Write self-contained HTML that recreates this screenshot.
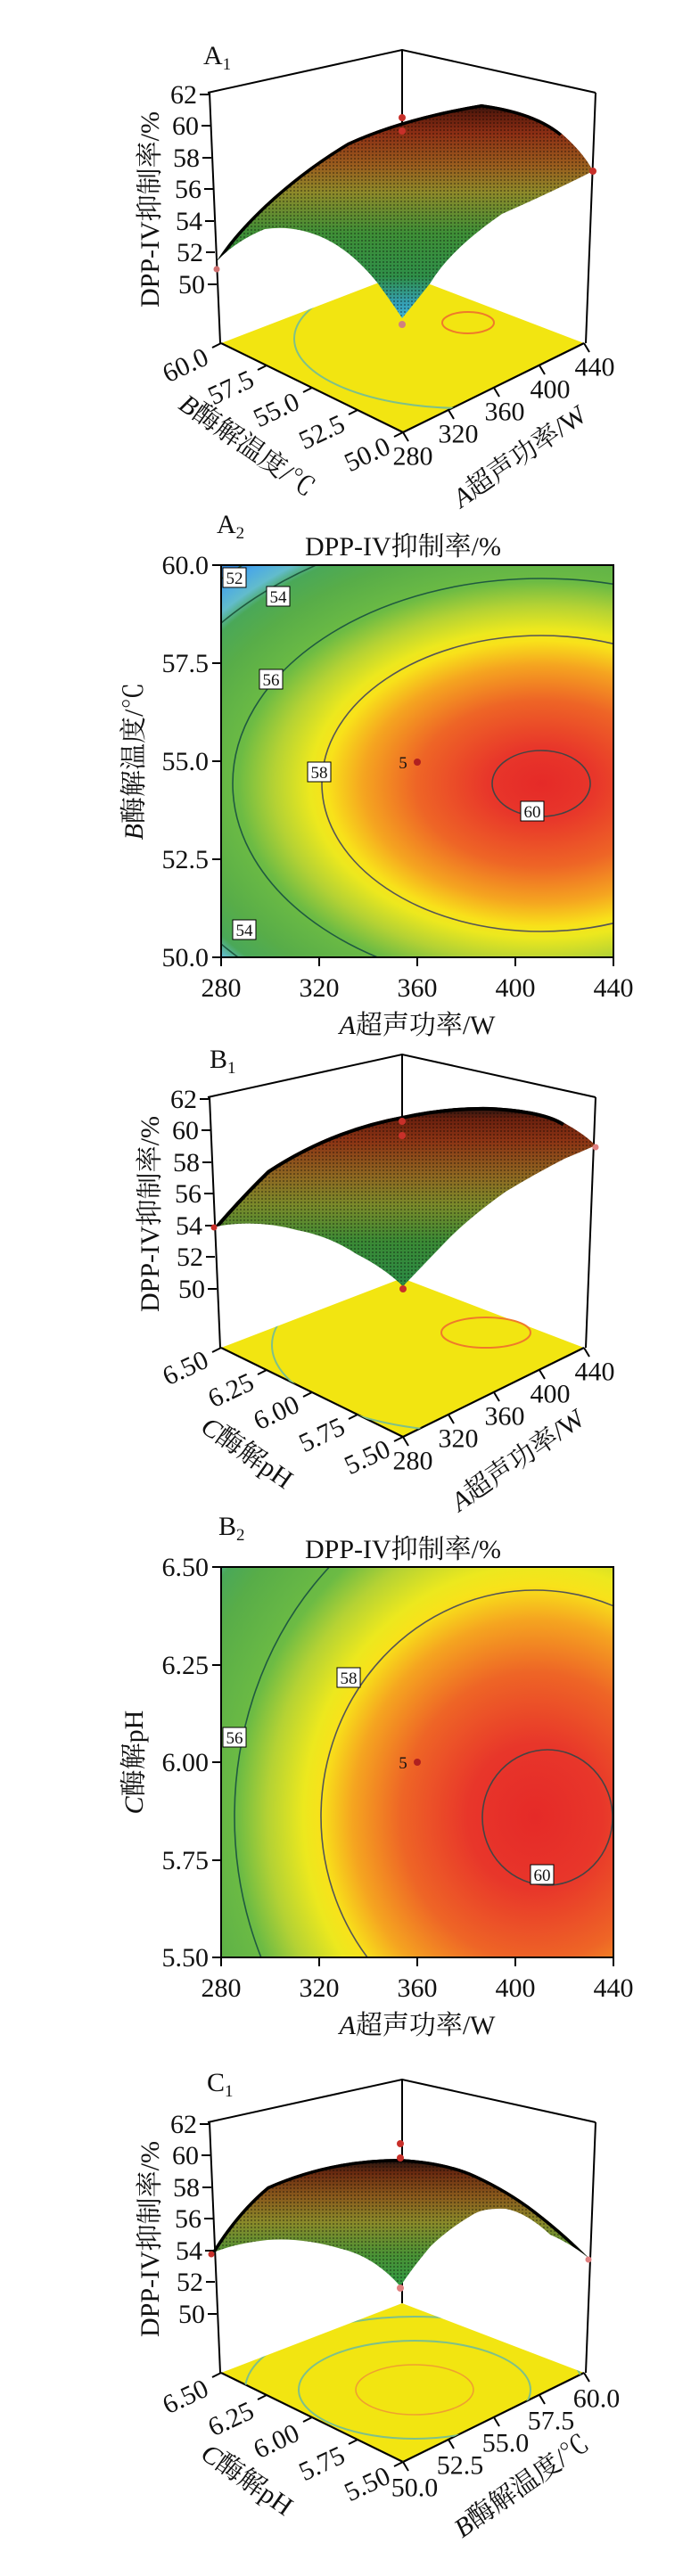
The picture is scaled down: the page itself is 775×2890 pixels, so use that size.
<!DOCTYPE html>
<html><head><meta charset="utf-8"><style>
html,body{margin:0;padding:0;background:#fff;}
svg{display:block;}
text{font-family:"Liberation Serif","Noto Serif CJK SC",serif;fill:#111;}
.t{font-size:30px;}
.cl{font-size:19px;}
</style></head><body>
<svg width="775" height="2890" viewBox="0 0 775 2890" xmlns="http://www.w3.org/2000/svg">
<defs>
<pattern id="mesh" width="4" height="4" patternUnits="userSpaceOnUse"><circle cx="2" cy="2" r="1" fill="#000" opacity=".4"/></pattern>
<linearGradient id="gA" gradientUnits="userSpaceOnUse" x1="0" y1="112" x2="0" y2="360">
<stop offset="0" stop-color="#111"/><stop offset=".06" stop-color="#5a1a0c"/><stop offset=".15" stop-color="#8c2e14"/><stop offset=".3" stop-color="#9a5e1e"/><stop offset=".42" stop-color="#8e8a2a"/><stop offset=".6" stop-color="#3f8f36"/><stop offset=".8" stop-color="#2f8f48"/><stop offset=".92" stop-color="#35a0b5"/><stop offset="1" stop-color="#40b8e0"/></linearGradient>
<linearGradient id="gB" gradientUnits="userSpaceOnUse" x1="0" y1="112" x2="0" y2="318">
<stop offset="0" stop-color="#111"/><stop offset=".08" stop-color="#6a200e"/><stop offset=".2" stop-color="#8c3414"/><stop offset=".4" stop-color="#8e6a22"/><stop offset=".55" stop-color="#7a8a2a"/><stop offset=".75" stop-color="#3a8a35"/><stop offset="1" stop-color="#2a8a45"/></linearGradient>
<linearGradient id="gC" gradientUnits="userSpaceOnUse" x1="0" y1="143" x2="0" y2="290">
<stop offset="0" stop-color="#111"/><stop offset=".12" stop-color="#6a2a10"/><stop offset=".3" stop-color="#8a5a1c"/><stop offset=".5" stop-color="#8a8a2a"/><stop offset=".75" stop-color="#4a9235"/><stop offset="1" stop-color="#2f9a45"/></linearGradient>
<radialGradient id="rA" gradientUnits="userSpaceOnUse" cx="607" cy="879" r="500" gradientTransform="translate(607 879) scale(1 0.667) translate(-607 -879)">
<stop offset="0" stop-color="#e52a28"/><stop offset=".12" stop-color="#e8362a"/><stop offset=".28" stop-color="#ee6526"/><stop offset=".4" stop-color="#f5a520"/><stop offset=".48" stop-color="#f8e21a"/><stop offset=".52" stop-color="#ece81e"/><stop offset=".6" stop-color="#b4d234"/><stop offset=".68" stop-color="#6cbb44"/><stop offset=".8" stop-color="#58ad48"/><stop offset=".88" stop-color="#4aa858"/><stop offset=".92" stop-color="#62bccc"/><stop offset=".97" stop-color="#4aa8e6"/><stop offset="1" stop-color="#3a8ede"/></radialGradient>
<radialGradient id="rB" gradientUnits="userSpaceOnUse" cx="600" cy="2038" r="500" gradientTransform="translate(600 2038) scale(1 1.08) translate(-600 -2038)">
<stop offset="0" stop-color="#e52a28"/><stop offset=".15" stop-color="#e8362a"/><stop offset=".3" stop-color="#ee6526"/><stop offset=".41" stop-color="#f5a520"/><stop offset=".48" stop-color="#f8e21a"/><stop offset=".52" stop-color="#ece81e"/><stop offset=".6" stop-color="#b4d234"/><stop offset=".67" stop-color="#6cbb44"/><stop offset=".8" stop-color="#58ad48"/><stop offset=".86" stop-color="#4aa858"/><stop offset=".9" stop-color="#62bccc"/><stop offset="1" stop-color="#4aa8e6"/></radialGradient>
<clipPath id="cA2"><rect x="248" y="634" width="440" height="440"/></clipPath>
<clipPath id="cB2"><rect x="248" y="1758" width="440" height="438"/></clipPath>
<clipPath id="floor"><polygon points="248,385 452,485 655,385 451,307"/></clipPath>
<clipPath id="sA"><path id="pA" d="M243,293 Q260,265 297,230 Q340,190 390,160 Q451,132 540,117 Q600,125 630,150 Q655,172 665,192 Q620,215 563,240 Q505,280 483,317 Q465,340 451,357 Q440,340 423,317 Q395,282 363,267 Q330,252 297,257 Q265,270 243,293 Z"/></clipPath>
<clipPath id="sB"><path id="pB" d="M240,250 Q270,215 300,186 Q370,140 451,125 Q500,114 550,115 Q610,118 633,133 Q655,145 668,158 Q650,166 633,173 Q600,190 567,210 Q525,240 500,266 Q475,292 452,316 Q430,295 400,280 Q370,260 333,253 Q300,244 267,246 Q250,247 240,250 Z"/></clipPath>
<clipPath id="sC"><path id="pC" d="M237,251 Q265,205 300,176 Q370,145 449,145 Q500,148 533,163 Q570,180 600,203 Q635,230 660,256 Q640,240 617,230 Q590,205 567,201 Q545,200 533,206 Q505,222 483,243 Q462,268 449,288 Q420,255 383,246 Q340,233 300,236 Q262,240 237,251 Z"/></clipPath>
<g id="box">
<polygon points="248,385 452,485 655,385 451,307" fill="#f2e511"/>
<polyline points="233,104 451,56 668,104" fill="none" stroke="#000" stroke-width="2"/>
<line x1="451" y1="56" x2="451" y2="307" stroke="#000" stroke-width="2"/>
<line x1="235" y1="104" x2="247" y2="385" stroke="#000" stroke-width="2"/>
<line x1="668" y1="104" x2="657" y2="385" stroke="#000" stroke-width="2"/>
<polyline points="248,385 452,485 655,385" fill="none" stroke="#000" stroke-width="2.2"/>
<g stroke="#000" stroke-width="2">
<line x1="234" y1="106" x2="224" y2="106"/><line x1="236" y1="141" x2="226" y2="141"/><line x1="237" y1="177" x2="227" y2="177"/><line x1="239" y1="212" x2="229" y2="212"/><line x1="240" y1="248" x2="230" y2="248"/><line x1="241" y1="283" x2="231" y2="283"/><line x1="243" y1="319" x2="233" y2="319"/>
<line x1="248" y1="385" x2="238" y2="390"/><line x1="299" y1="410" x2="289" y2="415"/><line x1="350" y1="435" x2="340" y2="440"/><line x1="401" y1="460" x2="391" y2="465"/><line x1="452" y1="485" x2="442" y2="490"/>
<line x1="452" y1="485" x2="458" y2="495"/><line x1="503" y1="460" x2="509" y2="470"/><line x1="554" y1="435" x2="560" y2="445"/><line x1="605" y1="410" x2="611" y2="420"/><line x1="655" y1="385" x2="661" y2="395"/>
</g>
<g class="t" text-anchor="end"><text x="221" y="116">62</text><text x="223" y="151">60</text><text x="224" y="187">58</text><text x="226" y="222">56</text><text x="227" y="258">54</text><text x="228" y="293">52</text><text x="230" y="329">50</text></g>
<text class="t" transform="translate(178 235) rotate(-90)" text-anchor="middle">DPP-IV抑制率/%</text>
</g>
</defs>

<!-- A1 -->
<text class="t" x="228" y="72">A<tspan font-size="19" dy="6">1</tspan></text>
<use href="#box"/>
<g clip-path="url(#floor)" fill="none"><ellipse cx="520" cy="380" rx="190" ry="78" stroke="#7ec08a" stroke-width="2"/><ellipse cx="520" cy="380" rx="290" ry="120" stroke="#7ec08a" stroke-width="2"/></g>
<ellipse cx="525" cy="362" rx="29" ry="12" fill="none" stroke="#ef7a2a" stroke-width="2"/>
<use href="#pA" fill="url(#gA)"/><use href="#pA" fill="url(#mesh)"/>
<path d="M243,293 Q260,265 297,230 Q340,190 390,160 Q451,132 540,117 Q600,125 630,150" fill="none" stroke="#000" stroke-width="7" clip-path="url(#sA)"/>
<g fill="#c8302a"><circle cx="451" cy="132" r="4"/><circle cx="451" cy="147" r="4"/><circle cx="665" cy="192" r="4"/><circle cx="243" cy="302" r="3.5" fill="#d07070"/><circle cx="451" cy="364" r="4" fill="#d08080"/></g>
<g class="t" text-anchor="middle" dominant-baseline="central">
<text transform="translate(208 410) rotate(-25)">60.0</text><text transform="translate(259 435) rotate(-25)">57.5</text><text transform="translate(310 460) rotate(-25)">55.0</text><text transform="translate(361 485) rotate(-25)">52.5</text><text transform="translate(412 510) rotate(-25)">50.0</text>
<text x="463" y="512">280</text><text x="514" y="487">320</text><text x="566" y="462">360</text><text x="617" y="437">400</text><text x="667" y="412">440</text>
<text transform="translate(277 500) rotate(35)"><tspan font-style="italic">B</tspan>酶解温度/℃</text>
<text transform="translate(583 512) rotate(-35)"><tspan font-style="italic">A</tspan>超声功率/W</text>
</g>

<!-- A2 -->
<text class="t" x="243" y="598">A<tspan font-size="19" dy="6">2</tspan></text>
<text class="t" x="452" y="623" text-anchor="middle">DPP-IV抑制率/%</text>
<g clip-path="url(#cA2)">
<rect x="248" y="634" width="440" height="440" fill="url(#rA)"/>
<g fill="none" stroke-width="1.6">
<ellipse cx="607" cy="879" rx="55" ry="37" stroke="#444"/>
<ellipse cx="607" cy="879" rx="246" ry="166" stroke="#555"/>
<ellipse cx="607" cy="879" rx="346" ry="230" stroke="#1f5a40"/>
<ellipse cx="607" cy="879" rx="453" ry="295" stroke="#1f5a40"/>
<ellipse cx="607" cy="879" rx="500" ry="330" stroke="#1f5a40"/>
</g>
</g>
<rect x="248" y="634" width="440" height="440" fill="none" stroke="#000" stroke-width="2"/>
<g fill="#fff" stroke="#000" stroke-width="1"><rect x="250" y="637" width="26" height="22"/><rect x="299" y="658" width="26" height="22"/><rect x="291" y="751" width="26" height="22"/><rect x="345" y="855" width="26" height="22"/><rect x="584" y="899" width="26" height="22"/><rect x="261" y="1032" width="26" height="22"/></g>
<g class="cl" text-anchor="middle"><text x="263" y="655">52</text><text x="312" y="676">54</text><text x="304" y="769">56</text><text x="358" y="873">58</text><text x="597" y="917">60</text><text x="274" y="1050">54</text></g>
<circle cx="468" cy="855" r="4" fill="#b02020"/><text class="cl" x="452" y="862" text-anchor="middle">5</text>
<g stroke="#000" stroke-width="2"><line x1="238" y1="634" x2="248" y2="634"/><line x1="238" y1="744" x2="248" y2="744"/><line x1="238" y1="854" x2="248" y2="854"/><line x1="238" y1="964" x2="248" y2="964"/><line x1="238" y1="1074" x2="248" y2="1074"/>
<line x1="248" y1="1074" x2="248" y2="1084"/><line x1="358" y1="1074" x2="358" y2="1084"/><line x1="468" y1="1074" x2="468" y2="1084"/><line x1="578" y1="1074" x2="578" y2="1084"/><line x1="688" y1="1074" x2="688" y2="1084"/></g>
<g class="t" text-anchor="end"><text x="234" y="644">60.0</text><text x="234" y="754">57.5</text><text x="234" y="864">55.0</text><text x="234" y="974">52.5</text><text x="234" y="1084">50.0</text></g>
<g class="t" text-anchor="middle"><text x="248" y="1118">280</text><text x="358" y="1118">320</text><text x="468" y="1118">360</text><text x="578" y="1118">400</text><text x="688" y="1118">440</text>
<text x="468" y="1160"><tspan font-style="italic">A</tspan>超声功率/W</text>
<text transform="translate(160 854) rotate(-90)"><tspan font-style="italic">B</tspan>酶解温度/℃</text></g>

<!-- B1 -->
<text class="t" x="235" y="1198">B<tspan font-size="19" dy="6">1</tspan></text>
<g transform="translate(0 1127)">
<use href="#box"/>
<g clip-path="url(#floor)" fill="none"><ellipse cx="540" cy="382" rx="235" ry="98" stroke="#7ec08a" stroke-width="2"/></g>
<ellipse cx="545" cy="368" rx="50" ry="17" fill="none" stroke="#ef7a2a" stroke-width="2"/>
<use href="#pB" fill="url(#gB)"/><use href="#pB" fill="url(#mesh)"/>
<path d="M240,250 Q270,215 300,186 Q370,140 451,125 Q500,114 550,115 Q610,118 633,133" fill="none" stroke="#000" stroke-width="8" clip-path="url(#sB)"/>
<g fill="#c8302a"><circle cx="451" cy="131" r="4"/><circle cx="451" cy="147" r="4"/><circle cx="668" cy="160" r="3.5" fill="#e08080"/><circle cx="240" cy="250" r="3.5"/><circle cx="452" cy="319" r="4"/></g>
<g class="t" text-anchor="middle" dominant-baseline="central">
<text transform="translate(208 408) rotate(-25)">6.50</text><text transform="translate(259 433) rotate(-25)">6.25</text><text transform="translate(310 458) rotate(-25)">6.00</text><text transform="translate(361 483) rotate(-25)">5.75</text><text transform="translate(412 508) rotate(-25)">5.50</text>
<text x="463" y="512">280</text><text x="514" y="487">320</text><text x="566" y="462">360</text><text x="617" y="437">400</text><text x="667" y="412">440</text>
<text transform="translate(277 503) rotate(35)"><tspan font-style="italic">C</tspan>酶解pH</text>
<text transform="translate(581 511) rotate(-35)"><tspan font-style="italic">A</tspan>超声功率/W</text>
</g>
</g>

<!-- B2 -->
<text class="t" x="245" y="1722">B<tspan font-size="19" dy="6">2</tspan></text>
<text class="t" x="452" y="1748" text-anchor="middle">DPP-IV抑制率/%</text>
<g clip-path="url(#cB2)">
<rect x="248" y="1758" width="440" height="438" fill="url(#rB)"/>
<g fill="none" stroke-width="1.6">
<ellipse cx="614" cy="2039" rx="73" ry="76" stroke="#444"/>
<ellipse cx="600" cy="2038" rx="240" ry="254" stroke="#555"/>
<ellipse cx="600" cy="2038" rx="337" ry="384" stroke="#1f5a40"/>
<ellipse cx="600" cy="2038" rx="430" ry="490" stroke="#1f5a40"/>
</g>
</g>
<rect x="248" y="1758" width="440" height="438" fill="none" stroke="#000" stroke-width="2"/>
<g fill="#fff" stroke="#000" stroke-width="1"><rect x="378" y="1871" width="26" height="22"/><rect x="250" y="1938" width="26" height="22"/><rect x="595" y="2092" width="26" height="22"/></g>
<g class="cl" text-anchor="middle"><text x="391" y="1889">58</text><text x="263" y="1956">56</text><text x="608" y="2110">60</text></g>
<circle cx="468" cy="1977" r="4" fill="#b02020"/><text class="cl" x="452" y="1984" text-anchor="middle">5</text>
<g stroke="#000" stroke-width="2"><line x1="238" y1="1758" x2="248" y2="1758"/><line x1="238" y1="1868" x2="248" y2="1868"/><line x1="238" y1="1977" x2="248" y2="1977"/><line x1="238" y1="2087" x2="248" y2="2087"/><line x1="238" y1="2196" x2="248" y2="2196"/>
<line x1="248" y1="2196" x2="248" y2="2206"/><line x1="358" y1="2196" x2="358" y2="2206"/><line x1="468" y1="2196" x2="468" y2="2206"/><line x1="578" y1="2196" x2="578" y2="2206"/><line x1="688" y1="2196" x2="688" y2="2206"/></g>
<g class="t" text-anchor="end"><text x="234" y="1768">6.50</text><text x="234" y="1878">6.25</text><text x="234" y="1987">6.00</text><text x="234" y="2097">5.75</text><text x="234" y="2206">5.50</text></g>
<g class="t" text-anchor="middle"><text x="248" y="2240">280</text><text x="358" y="2240">320</text><text x="468" y="2240">360</text><text x="578" y="2240">400</text><text x="688" y="2240">440</text>
<text x="468" y="2282"><tspan font-style="italic">A</tspan>超声功率/W</text>
<text transform="translate(160 1977) rotate(-90)"><tspan font-style="italic">C</tspan>酶解pH</text></g>

<!-- C1 -->
<text class="t" x="232" y="2346">C<tspan font-size="19" dy="6">1</tspan></text>
<g transform="translate(0 2277)">
<use href="#box"/>
<g clip-path="url(#floor)" fill="none" stroke="#7ec08a" stroke-width="2"><ellipse cx="465" cy="404" rx="130" ry="55"/><ellipse cx="465" cy="404" rx="190" ry="82"/><ellipse cx="465" cy="404" rx="240" ry="105"/><ellipse cx="465" cy="404" rx="280" ry="125"/></g>
<ellipse cx="465" cy="404" rx="66" ry="28" fill="none" stroke="#efa030" stroke-width="1.6"/>
<use href="#pC" fill="url(#gC)"/><use href="#pC" fill="url(#mesh)"/>
<path d="M237,251 Q265,205 300,176 Q370,145 449,145 Q500,148 533,163 Q570,180 600,203 Q635,230 660,256" fill="none" stroke="#000" stroke-width="7" clip-path="url(#sC)"/>
<g fill="#c8302a"><circle cx="449" cy="128" r="4"/><circle cx="449" cy="144" r="4"/><circle cx="237" cy="252" r="3.5"/><circle cx="660" cy="258" r="3.5" fill="#e08080"/><circle cx="449" cy="290" r="4" fill="#e08080"/></g>
<g class="t" text-anchor="middle" dominant-baseline="central">
<text transform="translate(208 412) rotate(-25)">6.50</text><text transform="translate(259 437) rotate(-25)">6.25</text><text transform="translate(310 462) rotate(-25)">6.00</text><text transform="translate(361 487) rotate(-25)">5.75</text><text transform="translate(412 510) rotate(-25)">5.50</text>
<text x="465" y="514">50.0</text><text x="516" y="489">52.5</text><text x="567" y="464">55.0</text><text x="618" y="439">57.5</text><text x="669" y="414">60.0</text>
<text transform="translate(277 505) rotate(35)"><tspan font-style="italic">C</tspan>酶解pH</text>
<text transform="translate(585 512) rotate(-35)"><tspan font-style="italic">B</tspan>酶解温度/℃</text>
</g>
</g>
</svg>
</body></html>
